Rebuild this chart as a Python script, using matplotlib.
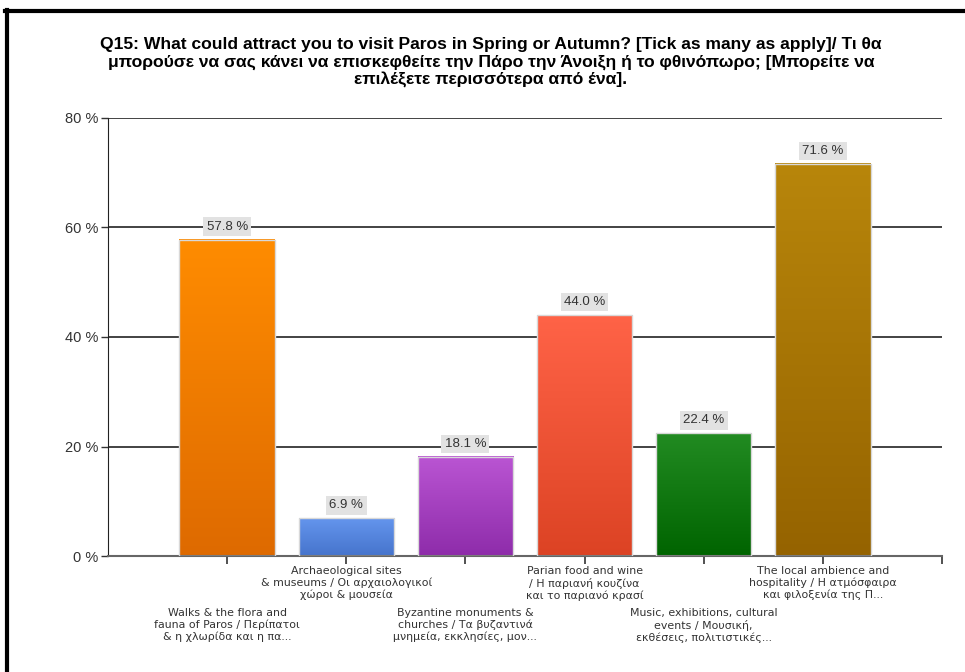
import numpy as np
import matplotlib
matplotlib.use("Agg")
import matplotlib.pyplot as plt
from matplotlib.colors import LinearSegmentedColormap
from matplotlib.transforms import blended_transform_factory

# data
categories = [
    "Walks & the flora and\nfauna of Paros / Περίπατοι\n& η χλωρίδα και η πα...",
    "Archaeological sites\n& museums / Οι αρχαιολογικοί\nχώροι & μουσεία",
    "Byzantine monuments &\nchurches / Τα βυζαντινά\nμνημεία, εκκλησίες, μον...",
    "Parian food and wine\n/ Η παριανή κουζίνα\nκαι το παριανό κρασί",
    "Music, exhibitions, cultural\nevents / Μουσική,\nεκθέσεις, πολιτιστικές...",
    "The local ambience and\nhospitality / Η ατμόσφαιρα\nκαι φιλοξενία της Π...",
]
values = [57.8, 6.9, 18.1, 44.0, 22.4, 71.6]
top_colors = ["#FF8C00", "#6495ED", "#BA55D3", "#FF6347", "#228B22", "#B8860B"]
bottom_colors = ["#DE6A00", "#4674CC", "#8E2CAA", "#DC4324", "#006400", "#956300"]
yticks = [0, 20, 40, 60, 80]

title = ("Q15: What could attract you to visit Paros in Spring or Autumn? [Tick as many as apply]/ Τι θα\n"
         "μπορούσε να σας κάνει να επισκεφθείτε την Πάρο την Άνοιξη ή το φθινόπωρο; [Μπορείτε να\n"
         "επιλέξετε περισσότερα από ένα].")

plt.rcParams['font.family'] = ['Liberation Sans', 'DejaVu Sans']

fig = plt.figure(figsize=(9.65, 6.72), dpi=100)
ax = fig.add_axes([108 / 965, 1 - 556 / 672, 834 / 965, 438 / 672])

# frame lines on the left and top of the picture
fig.add_artist(plt.Line2D([6.5 / 965, 6.5 / 965], [0, 1 - 10 / 672], color="black", lw=3, transform=fig.transFigure))
fig.add_artist(plt.Line2D([5 / 965, 1], [1 - 11 / 672, 1 - 11 / 672], color="black", lw=3, transform=fig.transFigure))

fig.text(491 / 965, 1 - 37 / 672, title, ha="center", va="top", fontsize=12.6,
         fontweight="bold", linespacing=1.2)

x = np.arange(1, len(values) + 1)
w = 0.8

# grid lines
for t in yticks[1:]:
    ax.plot([0, 7], [t, t], color="#222222", lw=1.2, zorder=1)

# bars with vertical gradient
grad = np.linspace(0, 1, 256).reshape(-1, 1)
for xi, v, ct, cb in zip(x, values, top_colors, bottom_colors):
    cmap = LinearSegmentedColormap.from_list("g", [cb, ct])
    ax.imshow(grad, cmap=cmap, origin="lower", aspect="auto", interpolation="bilinear",
              extent=[xi - w / 2, xi + w / 2, 0, v], zorder=2)
    ax.bar(xi, v, width=w, facecolor="none", edgecolor="#d8d8d8", lw=1, zorder=3)
    ax.annotate(f"{v:.1f} %", (xi, v), xytext=(0, 5), textcoords="offset points",
                ha="center", va="bottom", fontsize=9.5, color="#333333", zorder=4,
                bbox=dict(boxstyle="square,pad=0.25", facecolor="#e2e2e2", edgecolor="none"))

ax.set_xlim(0, 7)
ax.set_ylim(0, 80)

ax.set_yticks(yticks)
ax.set_yticklabels([f"{t} %" for t in yticks], fontsize=10.5, color="#333333")
ax.set_xticks(list(x) + [7])
ax.set_xticklabels([])
ax.tick_params(axis="y", length=5, width=1, color="#333333", pad=2)
ax.tick_params(axis="x", length=6, width=1.2, color="#333333")

for s in ["top", "right"]:
    ax.spines[s].set_visible(False)
ax.spines["left"].set_color("#222222")
ax.spines["bottom"].set_color("#666666")
ax.spines["bottom"].set_linewidth(1.5)

# staggered category labels
trans = blended_transform_factory(ax.transData, ax.transAxes)
for i, (xi, lab) in enumerate(zip(x, categories)):
    y = -10 / 438 if i % 2 == 1 else -52 / 438
    ax.text(xi, y, lab, transform=trans, ha="center", va="top", fontsize=7.9,
            family=["DejaVu Sans"], color="#333333", linespacing=1.2)

fig.savefig("out.png", dpi=100)
